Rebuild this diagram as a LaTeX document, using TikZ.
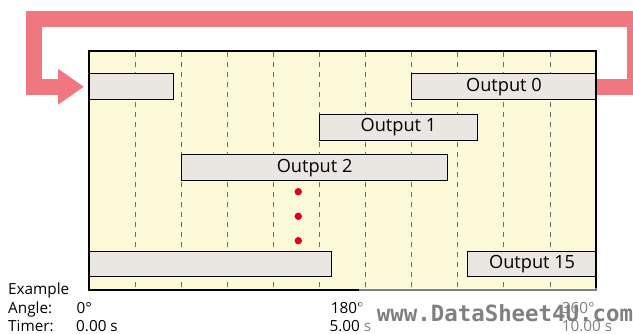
\documentclass[tikz,border=0pt]{standalone}
\usepackage{fontspec}
\setmainfont{Open Sans}
\newfontfamily\wmfont{DejaVu Sans Mono}
\usetikzlibrary{arrows.meta}
\definecolor{panel}{HTML}{FDFADA}
\definecolor{barfill}{HTML}{EAE6E2}
\definecolor{loopcol}{HTML}{F0767F}
\definecolor{dotred}{HTML}{E2001A}
\definecolor{dashcol}{HTML}{6E6E6E}
\tikzset{
  panelbox/.style={fill=panel, draw=black, line width=2.6pt},
  gridline/.style={draw=dashcol, line width=0.8pt, dash pattern=on 5pt off 5pt},
  barbox/.style={draw=black, line width=0.9pt, fill=barfill, inner sep=0pt,
    anchor=north west, font=\fontsize{18.2}{20}\selectfont},
  loopline/.style={draw=loopcol, line width=16pt,
    -{Triangle[length=26pt,width=34pt]}, shorten >=5pt},
  lbl/.style={anchor=base west, inner sep=0pt, font=\fontsize{15.3}{17}\selectfont},
  reddot/.style={circle, fill=dotred, inner sep=0pt, minimum size=7.4pt},
  wash/.style={fill=white, opacity=0.5},
  wmark/.style={anchor=base west, inner sep=0pt, text=black!50,
    font=\wmfont\bfseries\fontsize{22.4}{24}\selectfont}
}
\begin{document}
\begin{tikzpicture}[x=1pt, y=-1pt]
\useasboundingbox (0,0) rectangle (633,334);
\clip (0,0) rectangle (633,334);
% panel
\fill[panel] (89,51) rectangle (596,290);
\foreach \k in {1,...,10} {
  \draw[gridline] ({89+\k*46.09},52) -- ({89+\k*46.09},289);
}
% bars
\node[barbox, minimum width=84.3pt, minimum height=26pt] (o0b) at (89,73.3) {};
\node[barbox, minimum width=185pt, minimum height=26pt] (o0) at (411,73.3) {Output 0};
\node[barbox, minimum width=157.4pt, minimum height=26pt] (o1) at (319.3,114) {Output 1};
\node[barbox, minimum width=265.7pt, minimum height=26pt] (o2) at (181.3,154.2) {Output 2};
\node[barbox, minimum width=241.7pt, minimum height=25.3pt] (o15b) at (89,250.7) {};
\node[barbox, minimum width=128.7pt, minimum height=25.3pt] (o15) at (467.3,250.7) {Output 15};
% dots
\node[reddot] (d1) at (298.3,191.7) {};
\node[reddot] (d2) at (298.3,216.3) {};
\node[reddot] (d3) at (298.3,240.7) {};
% frame border
\draw[line width=2.6pt] (89,51) rectangle (596,290);
% loop arrow
\draw[loopline] (o0.east) -- ++(38.5,0) |- (34,19) |- (o0b.west);
% labels
\node[lbl] (ex) at (8,295) {Example};
\node[lbl] (an) at (8,314) {Angle:};
\node[lbl] (ti) at (8,331.7) {Timer:};
\node[lbl] (a0) at (76.3,314) {0°};
\node[lbl] (t0) at (76,331.7) {0.00 s};
\node[lbl] (a180) at (330.7,314) {180°};
\node[lbl] (t5) at (329.3,331.7) {5.00 s};
\node[lbl] (a360) at (561.7,314) {360°};
\node[lbl] (t10) at (561.7,331.7) {10.00 s};
% watermark
\fill[wash] (359,288.5) rectangle (633,334);
\node[wmark] (wm) at (376.7,321.7) {www.DataSheet4U.com};
\end{tikzpicture}
\end{document}
